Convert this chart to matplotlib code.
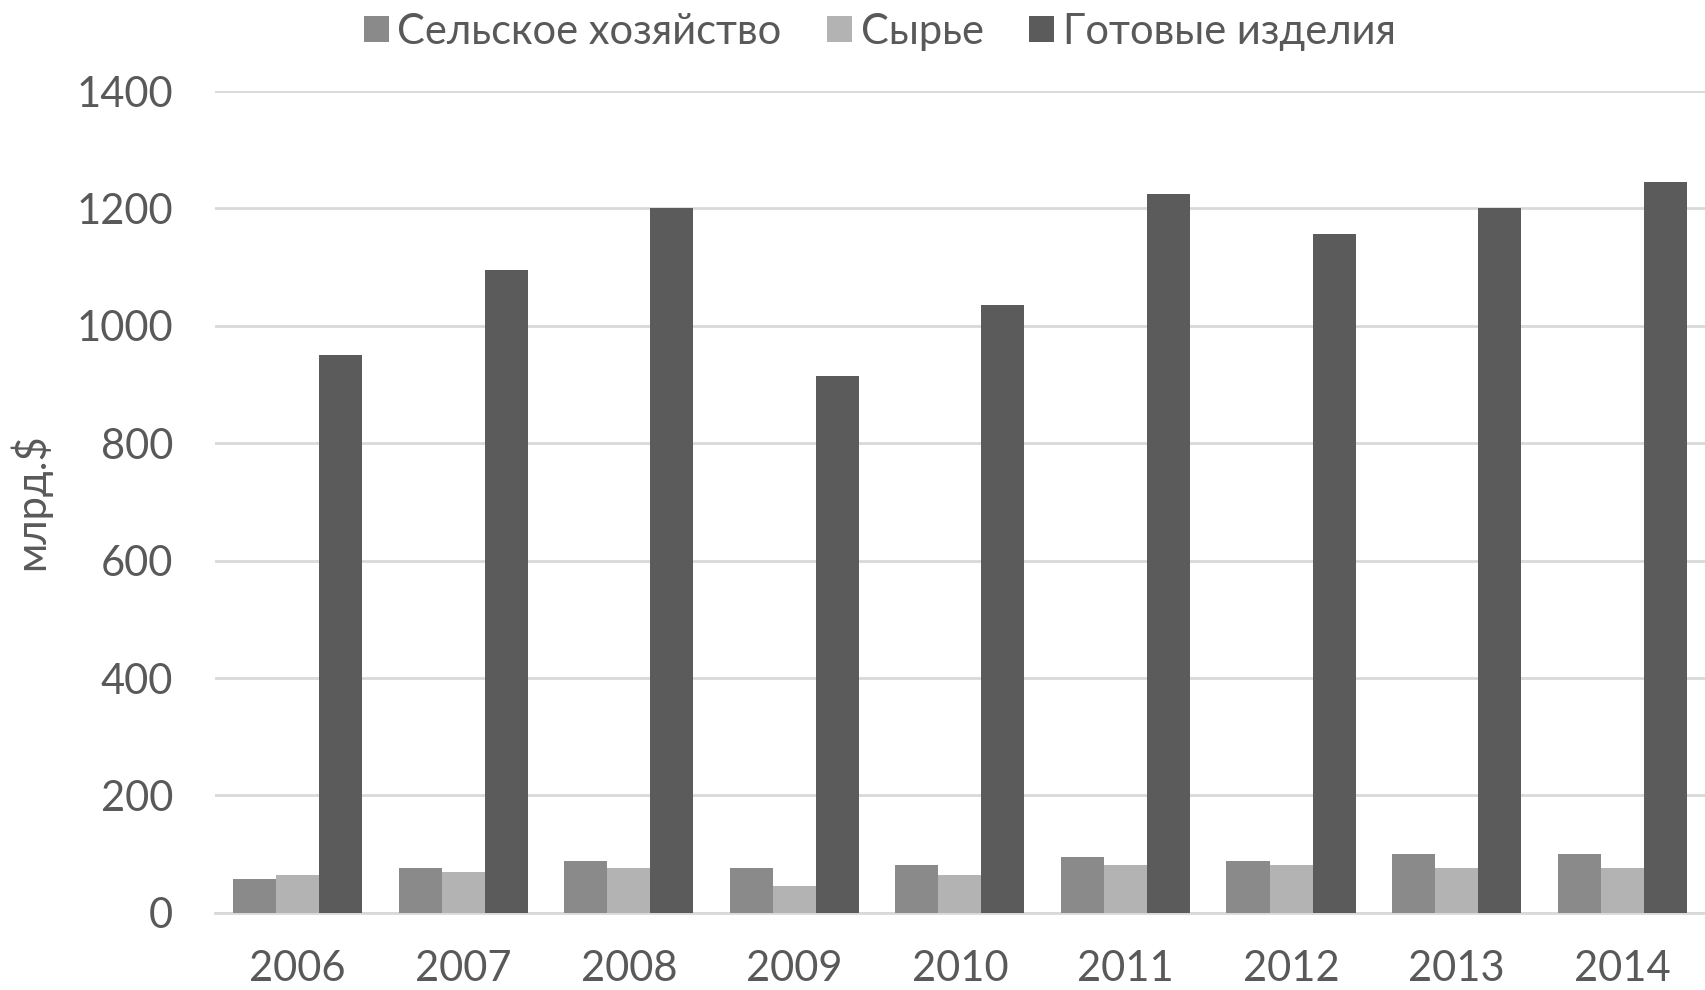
import matplotlib.pyplot as plt
import numpy as np
from matplotlib import font_manager

years = ['2006', '2007', '2008', '2009', '2010', '2011', '2012', '2013', '2014']
agriculture = [57, 77, 89, 77, 82, 95, 89, 101, 101]
raw_materials = [64, 70, 76, 45, 64, 82, 81, 76, 76]
manufactured = [950, 1095, 1200, 915, 1035, 1225, 1157, 1200, 1245]
series_names = ['Сельское хозяйство', 'Сырье', 'Готовые изделия']

names = {f.name for f in font_manager.fontManager.ttflist}
fam = 'Lato' if 'Lato' in names else 'DejaVu Sans'
plt.rcParams['font.family'] = [fam, 'DejaVu Sans']

text_color = '#595959'
grid_color = '#d9d9d9'

fig = plt.figure(figsize=(17.05, 9.9), dpi=100)
ax = fig.add_axes([0.126, 0.078, 0.874, 0.830])

x = np.arange(len(years))
w = 0.26
ax.bar(x - w, agriculture, w, color='#8a8a8a', label=series_names[0], zorder=3)
ax.bar(x, raw_materials, w, color='#b3b3b3', label=series_names[1], zorder=3)
ax.bar(x + w, manufactured, w, color='#5b5b5b', label=series_names[2], zorder=3)

ax.set_xlim(-0.5, len(years) - 0.5)
ax.set_ylim(0, 1400)
ax.set_yticks(np.arange(0, 1401, 200))
ax.set_xticks(x)
ax.set_xticklabels(years)
ax.grid(axis='y', color=grid_color, linewidth=2, zorder=0)
for s in ['top', 'right', 'left']:
    ax.spines[s].set_visible(False)
ax.spines['bottom'].set_color(grid_color)
ax.spines['bottom'].set_linewidth(2)
ax.tick_params(axis='both', length=0, labelsize=30, colors=text_color)
ax.tick_params(axis='y', pad=30)
ax.tick_params(axis='x', pad=27)
ax.set_ylabel('млрд.$', fontsize=30, color=text_color, labelpad=18)

leg = fig.legend(loc='upper center', bbox_to_anchor=(0.516, 1.025), ncol=3, frameon=False,
                 fontsize=30, handlelength=0.6, handleheight=0.6, handletextpad=0.2,
                 columnspacing=1.1, labelcolor=text_color)

fig.savefig('out.png', dpi=100)
